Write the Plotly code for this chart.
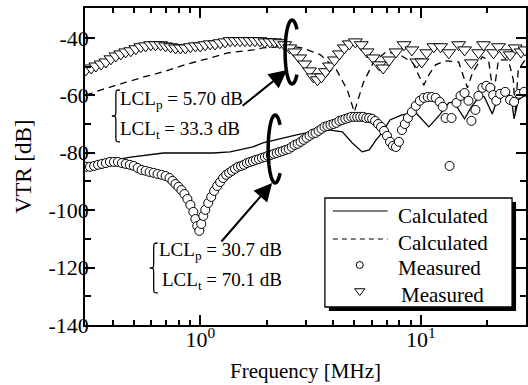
import math
import plotly.graph_objects as go

# ---------------- data (frequency in MHz, VTR in dB) ----------------
# Calculated, solid line
solid_f = [0.303, 0.406, 0.484, 0.681, 1.144, 1.365, 1.733, 1.922, 2.465, 2.735, 3.473, 3.89,
           4.41, 4.89, 5.42, 5.837, 6.27, 6.67, 7.25, 8.21, 9.49, 10.88, 12.18, 13.39, 14.10,
           15.8, 16.97, 18.63, 19.43, 21.1, 22.5, 24.96, 25.96, 26.5, 27.68, 29.7]
solid_v = [-84.2, -82.5, -81.5, -80.1, -80.1, -79.7, -78.0, -76.6, -74.5, -73.8, -72.1, -72.1,
           -72.7, -76.6, -79.7, -79.0, -75.5, -73.1, -68.6, -66.8, -66.1, -71.0, -66.8, -62.6, -62.3,
           -68.2, -64.0, -59.9, -60.6, -66.5, -60.2, -58.8, -63.3, -68.2, -61.6, -59.9]

# Calculated, dashed line
dash_f = [0.303, 0.355, 0.450, 0.554, 0.681, 0.874, 1.075, 1.337, 1.733, 1.922, 2.293, 2.651,
          2.91, 3.509, 4.142, 4.64, 4.995, 5.48, 6.08, 6.96, 8.04, 9.20, 10.1, 10.33, 10.88,
          11.68, 12.83, 14.85, 15.8, 16.28, 17.15, 19.0, 20.28, 21.36, 22.5, 24.96, 26.28, 26.8,
          27.68, 29.7]
dash_v = [-59.9, -58.1, -55.7, -53.6, -51.8, -49.1, -47.3, -45.2, -44.2, -43.5, -43.1, -43.1,
          -43.5, -45.9, -51.1, -58.1, -65.8, -55.7, -48.7, -44.9, -45.9, -48.7, -55.3, -56.4, -52.9,
          -49.4, -48.0, -48.4, -54.6, -57.4, -52.2, -46.6, -47.7, -60.0, -47.7, -47.7, -54.6, -66.0,
          -51.1, -47.7]

# Measured, circles
circ_f = [0.303, 0.316, 0.330, 0.344, 0.358, 0.373, 0.389, 0.406, 0.423, 0.441,
          0.459, 0.479, 0.499, 0.520, 0.542, 0.565, 0.589, 0.614, 0.640, 0.668,
          0.696, 0.725, 0.748, 0.772, 0.796, 0.821, 0.847, 0.874, 0.902, 0.930,
          0.950, 0.969, 0.990, 1.010, 1.032, 1.053, 1.087, 1.121, 1.156, 1.193,
          1.230, 1.269, 1.310, 1.351, 1.393, 1.437, 1.483, 1.530, 1.578, 1.628,
          1.679, 1.733, 1.787, 1.844, 1.902, 1.962, 2.024, 2.088, 2.154, 2.222,
          2.293, 2.365, 2.440, 2.517, 2.597, 2.679, 2.764, 2.851, 2.941, 3.034,
          3.131, 3.230, 3.332, 3.437, 3.546, 3.658, 3.773, 3.892, 4.015, 4.142,
          4.273, 4.408, 4.547, 4.691, 4.839, 4.992, 5.150, 5.312, 5.480, 5.653,
          5.832, 6.016, 6.206, 6.402, 6.604, 6.813, 7.028, 7.250, 7.479, 7.715,
          7.959, 8.21, 8.47, 8.74, 9.11, 9.49, 9.90, 10.32, 10.75, 11.21,
          11.68, 12.18, 12.57, 12.96, 13.79, 13.51, 14.52, 15.14, 15.79, 16.45,
          16.97, 17.69, 18.25, 19.03, 19.83, 20.66, 21.3, 22.0, 22.9, 24.15,
          25.4, 26.5, 27.9, 29.4]
circ_v = [-84.9, -84.9, -84.6, -84.2, -83.9, -83.6, -83.2, -83.2, -83.2, -83.6,
          -83.9, -84.2, -84.6, -85.3, -86.0, -86.3, -86.7, -87.0, -87.4, -87.7,
          -88.1, -88.8, -89.8, -90.9, -91.9, -93.0, -94.4, -96.1, -98.2, -100.6,
          -103.1, -105.5, -107.2, -104.8, -102.0, -99.9, -97.5, -95.4, -93.3, -91.6,
          -90.2, -88.8, -87.7, -87.0, -86.3, -85.6, -84.9, -84.6, -84.2, -83.6,
          -83.2, -82.9, -82.5, -82.2, -81.8, -81.5, -81.1, -80.8, -80.4, -80.1,
          -79.7, -79.4, -79.0, -78.7, -78.0, -77.3, -76.9, -76.2, -75.5, -74.8,
          -74.1, -73.4, -73.1, -72.4, -71.7, -71.0, -70.7, -70.3, -70.0, -69.6,
          -68.9, -68.6, -68.2, -67.9, -67.5, -67.5, -67.5, -67.5, -67.5, -67.9,
          -67.9, -68.2, -68.9, -70.0, -71.0, -72.4, -74.1, -76.2, -77.6, -78.0,
          -76.2, -72.1, -70.0, -67.9, -65.8, -63.7, -61.9, -60.9, -60.6, -60.6,
          -60.9, -62.3, -64.0, -67.9, -67.9, -84.6, -62.6, -60.2, -59.2, -61.9,
          -68.9, -65.1, -60.2, -57.4, -56.7, -57.4, -59.9, -61.9, -59.5, -58.8,
          -61.6, -62.3, -59.5, -58.8]

# Measured, triangles
tri_f = [0.303, 0.320, 0.336, 0.355, 0.373, 0.393, 0.414, 0.436, 0.459, 0.484,
         0.510, 0.537, 0.565, 0.596, 0.627, 0.661, 0.696, 0.733, 0.772, 0.813,
         0.856, 0.902, 0.950, 1.0, 1.053, 1.109, 1.168, 1.230, 1.296, 1.365,
         1.437, 1.514, 1.594, 1.679, 1.769, 1.863, 1.962, 2.067, 2.177, 2.293,
         2.415, 2.544, 2.679, 2.822, 2.972, 3.131, 3.26, 3.40, 3.544, 3.695,
         3.853, 4.058, 4.275, 4.502, 4.742, 5.05, 5.37, 5.71, 6.08, 6.475,
         6.75, 7.183, 7.72, 8.394, 9.11, 9.59, 10.1, 10.64, 11.46, 12.3,
         13.39, 14.85, 15.8, 16.97, 18.28, 19.25, 21.36, 22.5, 24.15, 25.43,
         26.8, 28.5, 29.7]
tri_v = [-51.1, -50.5, -49.8, -49.1, -48.4, -47.3, -46.3, -45.6, -44.9, -44.5,
         -43.8, -43.1, -42.8, -42.4, -42.4, -42.4, -42.8, -43.1, -43.5, -43.5,
         -43.5, -43.1, -42.8, -42.8, -42.4, -42.1, -42.1, -41.7, -41.4, -41.0,
         -41.0, -41.0, -41.0, -41.0, -41.0, -41.0, -41.4, -41.4, -41.4, -41.7,
         -42.4, -43.5, -44.9, -47.0, -49.1, -51.5, -53.6, -54.6, -53.6, -51.8,
         -49.8, -47.7, -45.6, -43.5, -42.1, -41.4, -42.4, -44.9, -47.0, -49.4,
         -50.5, -47.7, -44.9, -42.4, -44.2, -48.4, -48.4, -45.2, -43.1, -43.1,
         -45.2, -42.4, -44.2, -48.7, -45.2, -42.4, -45.2, -43.1, -45.2, -45.9,
         -43.5, -44.9, -44.2]

x_major = [1, 10]
x_major_text = ["10<sup>0</sup>", "10<sup>1</sup>"]
x_minor = [0.4, 0.5, 0.6, 0.7, 0.8, 0.9, 2, 3, 4, 5, 6, 7, 8, 9, 20]
y_major = [-140, -120, -100, -80, -60, -40]
y_major_text = ["-140", "-120", "-100", "-80", "-60", "-40"]
y_minor = [-130, -110, -90, -70, -50]

legend_labels = ["Calculated", "Calculated", "Measured", "Measured"]
lcl1 = ["LCL<sub>p</sub> = 5.70 dB", "LCL<sub>t</sub> = 33.3 dB"]
lcl2 = ["LCL<sub>p</sub> = 30.7 dB", "LCL<sub>t</sub> = 70.1 dB"]

# ---------------- layout helpers ----------------
W, H = 528, 385
L, R, T, B = 85, 528, 8, 325
FONT = "Liberation Serif"


def fx(p):
    return (p - L) / (R - L)


def fy(p):
    return (B - p) / (B - T)


def brace_path(xend, xstem, xtip, ytop, ymid, ybot):
    pts = lambda x, y: f"{fx(x):.5f},{fy(y):.5f}"
    return (f"M{pts(xend, ytop)} C{pts(xstem, ytop)} {pts(xstem, ytop)} {pts(xstem, ytop + 6)} "
            f"L{pts(xstem, ymid - 6)} C{pts(xstem, ymid)} {pts(xstem, ymid)} {pts(xtip, ymid)} "
            f"C{pts(xstem, ymid)} {pts(xstem, ymid)} {pts(xstem, ymid + 6)} "
            f"L{pts(xstem, ybot - 6)} C{pts(xstem, ybot)} {pts(xstem, ybot)} {pts(xend, ybot)}")


def ring_path(cx, cy, rx, ry, gap_deg=45):
    # open "C"-shaped ring (gap on the right side), in pixel space -> paper
    pts = []
    for k in range(0, 41):
        a = math.radians(gap_deg + (360 - 2 * gap_deg) * k / 40)
        pts.append(f"{fx(cx + rx * math.cos(a)):.5f},{fy(cy - ry * math.sin(a)):.5f}")
    return "M" + " L".join(pts)


fig = go.Figure()
fig.add_trace(go.Scatter(x=solid_f, y=solid_v, mode="lines", name="Calculated",
                         line=dict(color="black", width=1.3)))
fig.add_trace(go.Scatter(x=dash_f, y=dash_v, mode="lines", name="Calculated",
                         line=dict(color="black", width=1.3, dash="7px,5px")))
fig.add_trace(go.Scatter(x=circ_f, y=circ_v, mode="markers", name="Measured",
                         marker=dict(symbol="circle", size=9, color="white",
                                     line=dict(color="black", width=1))))
fig.add_trace(go.Scatter(x=tri_f, y=tri_v, mode="markers", name="Measured",
                         marker=dict(symbol="triangle-down", size=12, color="white",
                                     line=dict(color="black", width=1))))

# legend key markers (overlay axes in paper units)
fig.add_trace(go.Scatter(x=[fx(361)], y=[fy(265)], xaxis="x2", yaxis="y2", mode="markers",
                         showlegend=False, hoverinfo="skip",
                         marker=dict(symbol="circle", size=7, color="white",
                                     line=dict(color="black", width=1))))
fig.add_trace(go.Scatter(x=[fx(361)], y=[fy(291)], xaxis="x2", yaxis="y2", mode="markers",
                         showlegend=False, hoverinfo="skip",
                         marker=dict(symbol="triangle-down", size=9, color="white",
                                     line=dict(color="black", width=1))))

axis_common = dict(showline=True, linecolor="black", linewidth=1.5, mirror="allticks",
                   ticks="inside", ticklen=10, tickwidth=1.5, tickcolor="black",
                   showgrid=False, zeroline=False,
                   tickfont=dict(family=FONT, size=22, color="black"))

fig.update_layout(
    width=W, height=H,
    margin=dict(l=L, r=W - R, t=T, b=H - B),
    paper_bgcolor="white", plot_bgcolor="white",
    showlegend=False,
    font=dict(family=FONT, color="black"),
    xaxis=dict(type="log", range=[math.log10(0.3), math.log10(30)],
               tickmode="array", tickvals=x_major, ticktext=x_major_text,
               ticklabelstandoff=-6,
               minor=dict(tickmode="array", tickvals=x_minor, ticks="inside", ticklen=5,
                          tickwidth=1.5, tickcolor="black", showgrid=False),
               title=dict(text="Frequency [MHz]", font=dict(family=FONT, size=21, color="black"),
                          standoff=12),
               **axis_common),
    yaxis=dict(range=[-140, -29.6], tickmode="array", tickvals=y_major, ticktext=y_major_text,
               ticklabelstandoff=-10,
               minor=dict(tickmode="array", tickvals=y_minor, ticks="inside", ticklen=6,
                          tickwidth=1.5, tickcolor="black", showgrid=False),
               title=dict(text="VTR [dB]", font=dict(family=FONT, size=23, color="black"),
                          standoff=10),
               **axis_common),
    xaxis2=dict(overlaying="x", range=[0, 1], visible=False),
    yaxis2=dict(overlaying="y", range=[0, 1], visible=False),
)

shapes = []
# legend shadow and box
shapes.append(dict(type="rect", xref="paper", yref="paper", layer="below",
                   x0=fx(330), x1=fx(518), y0=fy(311), y1=fy(202),
                   fillcolor="black", line=dict(width=0)))
shapes.append(dict(type="rect", xref="paper", yref="paper", layer="below",
                   x0=fx(326), x1=fx(514), y0=fy(307), y1=fy(198),
                   fillcolor="white", line=dict(color="black", width=1.3)))
shapes.append(dict(type="line", xref="paper", yref="paper", layer="above",
                   x0=fx(334), x1=fx(389), y0=fy(211), y1=fy(211),
                   line=dict(color="black", width=1.2)))
shapes.append(dict(type="line", xref="paper", yref="paper", layer="above",
                   x0=fx(334), x1=fx(389), y0=fy(239), y1=fy(239),
                   line=dict(color="black", width=1.2, dash="5px,4px")))
# open rings around the curves
shapes.append(dict(type="path", xref="paper", yref="paper", layer="above",
                   path=ring_path(293, 52, 7, 32), line=dict(color="black", width=3.5)))
shapes.append(dict(type="path", xref="paper", yref="paper", layer="above",
                   path=ring_path(276, 149, 7, 34), line=dict(color="black", width=3.5)))
# braces
shapes.append(dict(type="path", xref="paper", yref="paper", layer="above",
                   path=brace_path(120, 116, 112, 90, 116, 142),
                   line=dict(color="black", width=1.3)))
shapes.append(dict(type="path", xref="paper", yref="paper", layer="above",
                   path=brace_path(158, 154, 150, 243, 268, 293),
                   line=dict(color="black", width=1.3)))
fig.update_layout(shapes=shapes)

ann = []
legend_pos = [(397, 216), (397, 243), (397, 268), (400, 295)]
for lab, (px_, py_) in zip(legend_labels, legend_pos):
    ann.append(dict(text=lab, xref="paper", yref="paper", x=fx(px_), y=fy(py_),
                    xanchor="left", yanchor="middle", showarrow=False,
                    font=dict(family=FONT, size=21, color="black")))
for txt, (px_, py_) in zip(lcl1, [(118, 100), (118, 130)]):
    ann.append(dict(text=txt, xref="paper", yref="paper", x=fx(px_), y=fy(py_),
                    xanchor="left", yanchor="middle", showarrow=False,
                    font=dict(family=FONT, size=19, color="black")))
for txt, (px_, py_) in zip(lcl2, [(157, 251), (160, 281)]):
    ann.append(dict(text=txt, xref="paper", yref="paper", x=fx(px_), y=fy(py_),
                    xanchor="left", yanchor="middle", showarrow=False,
                    font=dict(family=FONT, size=19, color="black")))
# arrows
ann.append(dict(text="", xref="paper", yref="paper", x=fx(288), y=fy(70), ax=-46, ay=37,
                showarrow=True, arrowhead=2, arrowsize=1.8, arrowwidth=2, arrowcolor="black"))
ann.append(dict(text="", xref="paper", yref="paper", x=fx(273), y=fy(183), ax=-52, ay=60,
                showarrow=True, arrowhead=2, arrowsize=1.8, arrowwidth=2, arrowcolor="black"))
fig.update_layout(annotations=ann)

fig.write_html("out.html", config={"displayModeBar": False},
               post_script="document.body.style.margin='0px';")
